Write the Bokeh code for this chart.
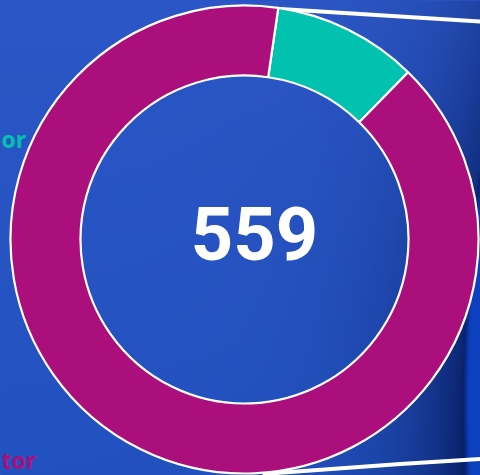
import numpy as np
from bokeh.plotting import figure
from bokeh.models import Range1d
from bokeh.core.properties import value
from bokeh.embed import file_html
from bokeh.resources import INLINE

# ---- data ----
categories = ["Teal segment", "Magenta segment"]
values = [56, 503]
colors = ["#00c2ae", "#ab0f7c"]
total_label = "559"
label_texts = ["or", "tor"]
label_colors = ["#00c2ae", "#ab0f7c"]

W, H = 480, 475
CX, CY = 244, H - 239
R_OUT, R_IN = 234, 164
START_DEG = 90 - 8.3  # teal slice begins 8.3 deg clockwise from top

p = figure(width=W, height=H, output_backend="svg", toolbar_location=None,
           x_range=Range1d(0, W), y_range=Range1d(0, H), min_border=0)
p.axis.visible = False
p.grid.visible = False
p.outline_line_color = None
p.background_fill_color = "#2855c4"
p.border_fill_color = "#2855c4"

# ---- background gradient / shadow of off-canvas second chart ----
xs = np.arange(W) + 0.5
ys = np.arange(H) + 0.5
XX, YY = np.meshgrid(xs, ys)          # YY: data y (up)
SY = H - YY                            # screen y (down)
base_top = np.array([44, 87, 198], float)
base_bot = np.array([34, 82, 192], float)
t = (SY / H)[..., None]
base = base_top * (1 - t) + base_bot * t
Rc = 1500.0
ccx, ccy = 462 + Rc, 400.0
dist = np.sqrt((XX - ccx) ** 2 + (SY - ccy) ** 2) - Rc
navy = np.array([8, 30, 100], float)
s = 0.95 * np.exp(-np.clip(dist, 0, None) / 65.0) * (0.6 + 0.4 * SY / H)
s = s[..., None]
col = base * (1 - s) + navy * s
bright = np.array([12, 64, 190], float)
inside = (dist < 0)[..., None]
inner_shade = np.clip(-dist / 6.0, 0, 1)[..., None]
col = np.where(inside, navy * (1 - inner_shade) + bright * inner_shade, col)
col = np.clip(col, 0, 255).astype(np.uint32)
img = (255 << 24) | (col[..., 2] << 16) | (col[..., 1] << 8) | col[..., 0]
p.image_rgba(image=[img.astype(np.uint32)], x=0, y=0, dw=W, dh=H)

# ---- connector lines ----
p.line(x=[280, 480], y=[H - 8.5, H - 21], line_color="white", line_width=4)
p.line(x=[262, 400, 480], y=[H - 473.5, H - 463.5, H - 458.5], line_color="white", line_width=4)

# ---- donut ----
fr = np.array(values, float) / sum(values)
angles_cw = np.concatenate([[0], np.cumsum(fr)]) * 2 * np.pi
start_r = np.radians(START_DEG)
for i in range(len(values)):
    a0 = start_r - angles_cw[i + 1]
    a1 = start_r - angles_cw[i]
    p.annular_wedge(x=CX, y=CY, inner_radius=R_IN, outer_radius=R_OUT,
                    start_angle=a0, end_angle=a1, fill_color=colors[i],
                    line_color="white", line_width=2.2)

p.text(x=[254], y=[H - 233], text=[total_label], text_align="center",
       text_baseline="middle", text_color="white", text_font=value("Roboto"),
       text_font_style="bold", text_font_size="74px")

p.text(x=[1, 1], y=[H - 138, H - 459], text=label_texts, text_align="left",
       text_baseline="alphabetic", text_color=label_colors,
       text_font=value("Open Sans"), text_font_style="bold", text_font_size="23px")

html = file_html(p, INLINE)
html = html.replace("<head>", "<head><style>html,body{margin:0;padding:0;background:#2855c4;overflow:hidden}</style>", 1)
open("out.html", "w").write(html)
